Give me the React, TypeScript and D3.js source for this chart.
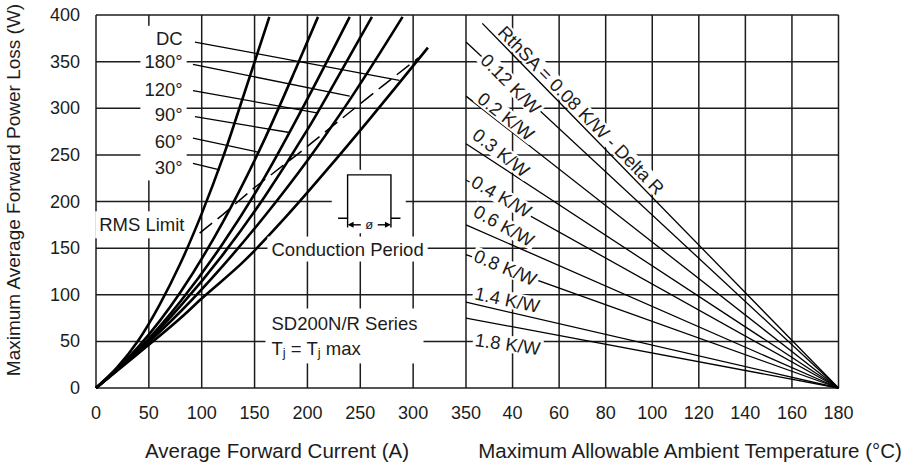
import React, { useEffect, useRef } from 'react';
import * as d3 from 'd3';

const W = 917;
const H = 464;
const FONT = "'Liberation Sans', Arial, Helvetica, sans-serif";

// axes
const currentTicks = [0, 50, 100, 150, 200, 250, 300, 350];
const powerTicks = [0, 50, 100, 150, 200, 250, 300, 350, 400];
const tempTicks = [40, 60, 80, 100, 120, 140, 160, 180];

// left panel: [average current (A), power loss (W)]
const angleNames = ['DC', '180°', '120°', '90°', '60°', '30°'];
const curveDC = [[0, 0], [40, 37], [80, 75], [100, 96], [140, 136], [180, 184], [220, 236], [260, 290], [314, 365]];
const curve180 = [[0, 0], [40, 39], [80, 82], [120, 131], [160, 185], [200, 244], [240, 309], [290, 398]];
const curve120 = [[0, 0], [40, 40], [80, 88], [120, 143], [160, 206], [200, 277], [240, 356], [261, 398]];
const curve90 = [[0, 0], [40, 41], [80, 93], [120, 155], [160, 227], [200, 310], [240, 398]];
const curve60 = [[0, 0], [40, 44], [80, 103], [120, 178], [160, 268], [190, 345], [210, 398]];
const curve30 = [[0, 0], [20, 22], [40, 51], [60, 89], [80, 134], [100, 187], [120, 247], [140, 315], [164, 398]];
const curves = [curveDC, curve180, curve120, curve90, curve60, curve30];

// label leaders: label side -> point on curve
const angleLabelPower = [375, 350, 320, 293, 264, 236];
const leaderFrom = [[93.6, 371], [91.7, 347], [91.7, 319], [93.6, 291], [91.7, 268], [91.7, 241]];
const leaderTo = [[287, 330], [240, 313], [209, 295], [183, 274], [153, 253], [117, 234]];

const rmsLimit = [[98, 166], [120, 186], [150, 215], [190, 250], [237, 293], [270, 323], [305, 354]];

// right panel: heatsink thermal resistance lines, end at Tj max, 0 W
const rthNames = ['RthSA = 0.08 K/W - Delta R', '0.12 K/W', '0.2 K/W', '0.3 K/W', '0.4 K/W', '0.6 K/W', '0.8 K/W', '1.4 K/W', '1.8 K/W'];
const rthStartTemp = [27, 20, 20, 20, 20, 20, 20, 20, 20];
const rthStartPower = [391, 371, 313, 262, 223, 175, 143, 92, 75];
const tjMax = 180;

// label placement (temp, power, angle)
const rthLabelTemp = [35.2, 27.7, 26, 23.9, 23, 23.9, 23.9, 23.9, 23.9];
const rthLabelPower = [385, 355, 313, 274, 223, 191, 143, 102, 52];
const rthLabelAngle = [45.5, 45, 38, 38, 30, 29, 23, 12, 8];

const App = () => {
  const ref = useRef<SVGSVGElement>(null);

  useEffect(() => {
    document.body.style.margin = '0';
    const svg = d3.select(ref.current);
    svg.selectAll('*').remove();

    const xL = d3.scaleLinear().domain([0, 350]).range([96, 466]);
    const xR = d3.scaleLinear().domain([20, 180]).range([466, 838.5]);
    const y = d3.scaleLinear().domain([0, 400]).range([388, 15]);
    const ink = '#1c1c1c';

    const backed = (g: any, padX: number, padY: number) => {
      const b = g.node().getBBox();
      g.insert('rect', ':first-child')
        .attr('x', b.x - padX)
        .attr('y', b.y - padY)
        .attr('width', b.width + 2 * padX)
        .attr('height', b.height + 2 * padY)
        .attr('fill', '#fff');
    };

    // grid + frame
    const grid = svg.append('g').attr('stroke', ink).attr('stroke-width', 1.5);
    powerTicks.forEach((p) =>
      grid.append('line').attr('x1', xL(0)).attr('x2', xR(180)).attr('y1', y(p)).attr('y2', y(p))
    );
    currentTicks.forEach((c) =>
      grid.append('line').attr('x1', xL(c)).attr('x2', xL(c)).attr('y1', y(0)).attr('y2', y(400))
    );
    tempTicks.forEach((t) =>
      grid.append('line').attr('x1', xR(t)).attr('x2', xR(t)).attr('y1', y(0)).attr('y2', y(400))
    );

    // curves
    const line = d3
      .line<number[]>()
      .x((d) => xL(d[0]))
      .y((d) => y(d[1]))
      .curve(d3.curveMonotoneX);
    curves.forEach((c) => {
      svg.append('path').attr('d', line(c)).attr('fill', 'none').attr('stroke', '#000').attr('stroke-width', 2.6);
    });

    rthNames.forEach((_, i) => {
      svg
        .append('line')
        .attr('x1', xR(rthStartTemp[i]))
        .attr('y1', y(rthStartPower[i]))
        .attr('x2', xR(tjMax))
        .attr('y2', y(0))
        .attr('stroke', '#000')
        .attr('stroke-width', 1.3);
    });

    const textStyle = (t: any, size: number) =>
      t.attr('font-family', FONT).attr('font-size', size).attr('fill', ink);

    // angle labels
    const col = svg.append('g');
    angleNames.forEach((n, i) => {
      textStyle(col.append('text'), 18.5)
        .attr('x', xL(82))
        .attr('y', y(angleLabelPower[i]))
        .attr('text-anchor', 'end')
        .attr('dominant-baseline', 'central')
        .text(n);
    });
    backed(col, 4, 2);

    leaderFrom.forEach((f, i) => {
      svg
        .append('line')
        .attr('x1', xL(f[0]))
        .attr('y1', y(f[1]))
        .attr('x2', xL(leaderTo[i][0]))
        .attr('y2', y(leaderTo[i][1]))
        .attr('stroke', '#000')
        .attr('stroke-width', 1.3);
    });

    const rms = svg.append('g');
    textStyle(rms.append('text'), 18.5)
      .attr('x', xL(3))
      .attr('y', y(175))
      .attr('dominant-baseline', 'central')
      .text('RMS Limit');
    backed(rms, 4, 3);

    // conduction period icon
    const icon = svg.append('g');
    icon
      .append('rect')
      .attr('x', xL(223))
      .attr('y', y(234))
      .attr('width', xL(293) - xL(223))
      .attr('height', y(166) - y(234))
      .attr('fill', '#fff');
    const ic = icon.append('g').attr('stroke', '#000').attr('stroke-width', 1.4).attr('fill', 'none');
    ic.append('path').attr(
      'd',
      `M${xL(229)},${y(182)}H${xL(238)}M${xL(238)},${y(172)}V${y(228.5)}H${xL(279)}V${y(172)}M${xL(279)},${y(182)}H${xL(288)}`
    );
    const ay = y(175);
    ic.append('line').attr('x1', xL(241)).attr('x2', xL(250.5)).attr('y1', ay).attr('y2', ay);
    ic.append('line').attr('x1', xL(266.5)).attr('x2', xL(276)).attr('y1', ay).attr('y2', ay);
    icon
      .append('path')
      .attr('d', `M${xL(238)},${ay}l6,-3v6z M${xL(279)},${ay}l-6,-3v6z`)
      .attr('fill', '#000');
    textStyle(icon.append('text'), 13)
      .attr('x', xL(258.5))
      .attr('y', ay)
      .attr('text-anchor', 'middle')
      .attr('dominant-baseline', 'central')
      .text('ø');

    const cond = svg.append('g');
    textStyle(cond.append('text'), 18.5)
      .attr('x', xL(166))
      .attr('y', y(149))
      .attr('dominant-baseline', 'central')
      .text('Conduction Period');
    backed(cond, 4, 2);

    const series = svg.append('g');
    textStyle(series.append('text'), 18.5)
      .attr('x', xL(166))
      .attr('y', y(69.7))
      .attr('dominant-baseline', 'central')
      .text('SD200N/R Series');
    const tj = textStyle(series.append('text'), 18.5)
      .attr('x', xL(166))
      .attr('y', y(43))
      .attr('dominant-baseline', 'central');
    tj.append('tspan').text('T');
    tj.append('tspan').attr('font-size', 13).attr('dy', 4).text('j');
    tj.append('tspan').attr('dy', -4).text(' = T');
    tj.append('tspan').attr('font-size', 13).attr('dy', 4).text('j');
    tj.append('tspan').attr('dy', -4).text(' max');
    backed(series, 6, 4);

    // dashed RMS limit
    svg
      .append('path')
      .attr('d', d3.line<number[]>().x((d) => xL(d[0])).y((d) => y(d[1]))(rmsLimit))
      .attr('fill', 'none')
      .attr('stroke', '#000')
      .attr('stroke-width', 1.5)
      .attr('stroke-dasharray', '16 7');

    // thermal resistance labels
    rthNames.forEach((n, i) => {
      const g = svg
        .append('g')
        .attr('transform', `translate(${xR(rthLabelTemp[i])},${y(rthLabelPower[i])}) rotate(${rthLabelAngle[i]})`);
      textStyle(g.append('text'), 18.5).attr('dominant-baseline', 'central').text(n);
      backed(g, 2, -2);
    });

    // tick labels
    currentTicks.forEach((c) => {
      textStyle(svg.append('text'), 18)
        .attr('x', xL(c))
        .attr('y', 413)
        .attr('text-anchor', 'middle')
        .attr('dominant-baseline', 'central')
        .text(c);
    });
    tempTicks.forEach((t) => {
      textStyle(svg.append('text'), 18)
        .attr('x', xR(t))
        .attr('y', 413)
        .attr('text-anchor', 'middle')
        .attr('dominant-baseline', 'central')
        .text(t);
    });
    powerTicks.forEach((p) => {
      textStyle(svg.append('text'), 18)
        .attr('x', 80)
        .attr('y', y(p))
        .attr('text-anchor', 'end')
        .attr('dominant-baseline', 'central')
        .text(p);
    });

    // axis titles
    textStyle(svg.append('text'), 20.5)
      .attr('x', 277)
      .attr('y', 450)
      .attr('text-anchor', 'middle')
      .attr('dominant-baseline', 'central')
      .text('Average Forward Current (A)');
    textStyle(svg.append('text'), 20.5)
      .attr('x', 690)
      .attr('y', 450)
      .attr('text-anchor', 'middle')
      .attr('dominant-baseline', 'central')
      .text('Maximum Allowable Ambient Temperature (°C)');
    textStyle(svg.append('text'), 19)
      .attr('transform', 'translate(20,190) rotate(-90)')
      .attr('text-anchor', 'middle')
      .text('Maximum Average Forward Power Loss (W)');
  }, []);

  return <svg ref={ref} width={W} height={H} style={{ display: 'block', background: '#fff' }} />;
};

export default App;
